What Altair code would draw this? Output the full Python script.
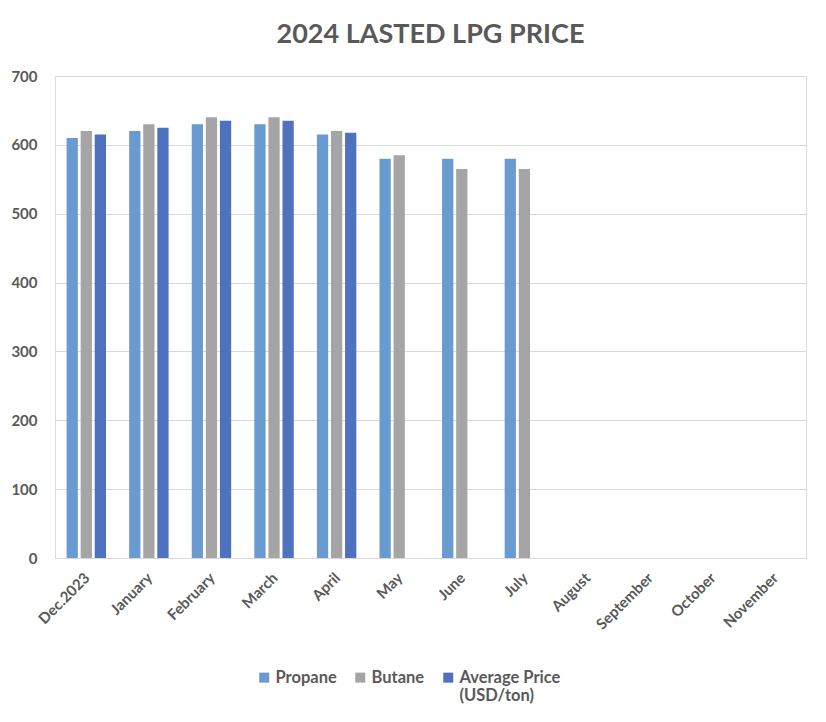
import altair as alt
import pandas as pd

months = ["Dec.2023", "January", "February", "March", "April", "May", "June",
          "July", "August", "September", "October", "November"]
series = ["Propane", "Butane", "Average Price (USD/ton)"]
propane = [610, 620, 630, 630, 615, 580, 580, 580, None, None, None, None]
butane = [620, 630, 640, 640, 620, 585, 565, 565, None, None, None, None]
average = [615, 625, 635, 635, 617.5, None, None, None, None, None, None, None]
colors = ["#6A9BD0", "#A5A5A5", "#4E72BE"]

rows = []
for i, m in enumerate(months):
    for s, vals in zip(series, [propane, butane, average]):
        if vals[i] is not None:
            rows.append({"month": m, "series": s, "value": vals[i]})
df = pd.DataFrame(rows)

FONT = "Lato"
GRAY = "#595959"

chart = alt.Chart(df).mark_bar().encode(
    x=alt.X("month:N", sort=months, scale=alt.Scale(domain=months, paddingInner=0.37, paddingOuter=0.185),
            axis=alt.Axis(title=None, labelAngle=-45, labelFontSize=15, labelFontWeight="bold",
                          labelColor=GRAY, labelFont=FONT, ticks=False, domainColor="#D9D9D9",
                          labelPadding=12, labelOffset=-4)),
    xOffset=alt.XOffset("series:N", sort=series, scale=alt.Scale(domain=series, paddingInner=0.2)),
    y=alt.Y("value:Q", scale=alt.Scale(domain=[0, 700]),
            axis=alt.Axis(title=None, values=[0, 100, 200, 300, 400, 500, 600, 700],
                          labelFontSize=15, labelFontWeight="bold", labelColor=GRAY, labelFont=FONT,
                          ticks=False, domain=False, gridColor="#D9D9D9", labelPadding=18)),
    color=alt.Color("series:N", sort=series,
                    scale=alt.Scale(domain=series, range=colors),
                    legend=alt.Legend(title=None, orient="none", legendX=201, legendY=593,
                                      direction="horizontal",
                                      symbolType="square", symbolSize=100, symbolStrokeWidth=0,
                                      labelFontSize=16.5, labelFontWeight="bold", labelColor=GRAY,
                                      labelFont=FONT, columnPadding=15, labelOffset=3,
                                      labelExpr="datum.label == 'Average Price (USD/ton)' ? ['Average Price', '(USD/ton)'] : [datum.label, ' ']")),
).properties(
    width=751, height=482,
    title=alt.Title("2024 LASTED LPG PRICE", fontSize=27, font=FONT, fontWeight="bold",
                    color=GRAY, anchor="middle", offset=20),
).configure_view(stroke=None).configure(background="white", padding={"left": 2, "top": 13, "right": 5, "bottom": 5})

chart.save("out.html", embed_options={"renderer": "svg", "actions": False})
